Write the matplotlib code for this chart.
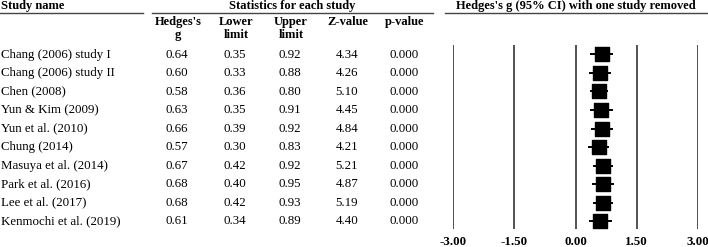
import numpy as np
import matplotlib.pyplot as plt

plt.rcParams["font.family"] = ["Liberation Serif", "DejaVu Serif"]

studies = ["Chang (2006) study I", "Chang (2006) study II", "Chen (2008)",
           "Yun & Kim (2009)", "Yun et al. (2010)", "Chung (2014)",
           "Masuya et al. (2014)", "Park et al. (2016)", "Lee et al. (2017)",
           "Kenmochi et al. (2019)"]
hedges_g = [0.64, 0.60, 0.58, 0.63, 0.66, 0.57, 0.67, 0.68, 0.68, 0.61]
lower = [0.35, 0.33, 0.36, 0.35, 0.39, 0.30, 0.42, 0.40, 0.42, 0.34]
upper = [0.92, 0.88, 0.80, 0.91, 0.92, 0.83, 0.92, 0.95, 0.93, 0.89]
z_value = [4.34, 4.26, 5.10, 4.45, 4.84, 4.21, 5.21, 4.87, 5.19, 4.40]
p_value = [0.000] * 10
xticks = [-3.00, -1.50, 0.00, 1.50, 3.00]

W, H = 708, 247
fig = plt.figure(figsize=(W / 100, H / 100), dpi=100)

# overlay axes in pixel coordinates for the table part
tab = fig.add_axes([0, 0, 1, 1])
tab.set_xlim(0, W)
tab.set_ylim(H, 0)
tab.axis("off")

fs = 9.3
fsb = 9.0
row0, dy = 54.5, 18.5
col_x = [177, 235, 290, 347, 404]

tab.text(1, 6, "Study name", fontsize=fsb, fontweight="bold", va="center", ha="left")
tab.text(292, 6, "Statistics for each study", fontsize=fsb, fontweight="bold", va="center", ha="center")
tab.text(576, 6, "Hedges's g (95% CI) with one study removed", fontsize=fsb, fontweight="bold",
         va="center", ha="center")
for x0, x1 in [(0, 143), (152, 433), (445, 708)]:
    tab.plot([x0, x1], [13, 13], color="#444444", lw=1.0)

headers = ["Hedges's\ng", "Lower\nlimit", "Upper\nlimit", "Z-value", "p-value"]
for x, h in zip(col_x, headers):
    for k, line in enumerate(h.split("\n")):
        tab.text(x + 1, 22 + 13 * k, line, fontsize=fsb, fontweight="bold", va="center", ha="center")

for i, name in enumerate(studies):
    y = row0 + i * dy
    tab.text(1, y, name, fontsize=fs, va="center", ha="left")
    vals = [f"{hedges_g[i]:.2f}", f"{lower[i]:.2f}", f"{upper[i]:.2f}",
            f"{z_value[i]:.2f}", f"{p_value[i]:.3f}"]
    for x, v in zip(col_x, vals):
        tab.text(x, y, v, fontsize=fs, va="center", ha="center")

# forest plot
top_px, bot_px = 45, 229
ax = fig.add_axes([453 / W, 1 - bot_px / H, 245 / W, (bot_px - top_px) / H])
ax.set_xlim(-3, 3)
ax.set_ylim((bot_px - row0) / dy, (top_px - row0) / dy)
for t in xticks:
    ax.axvline(t, color="#222222", lw=1.1)
y = np.arange(len(studies))
ax.hlines(y, lower, upper, color="black", lw=1.4)
ax.scatter(hedges_g, y, marker="s", s=110, color="black", zorder=3)
for s in ax.spines.values():
    s.set_visible(False)
ax.set_yticks([])
ax.set_xticks(xticks)
ax.set_xticklabels([f"{t:.2f}" for t in xticks], fontsize=fs, fontweight="bold")
ax.tick_params(axis="x", length=0, pad=5)
ax.set_facecolor("none")

fig.savefig("out.png", dpi=100)
